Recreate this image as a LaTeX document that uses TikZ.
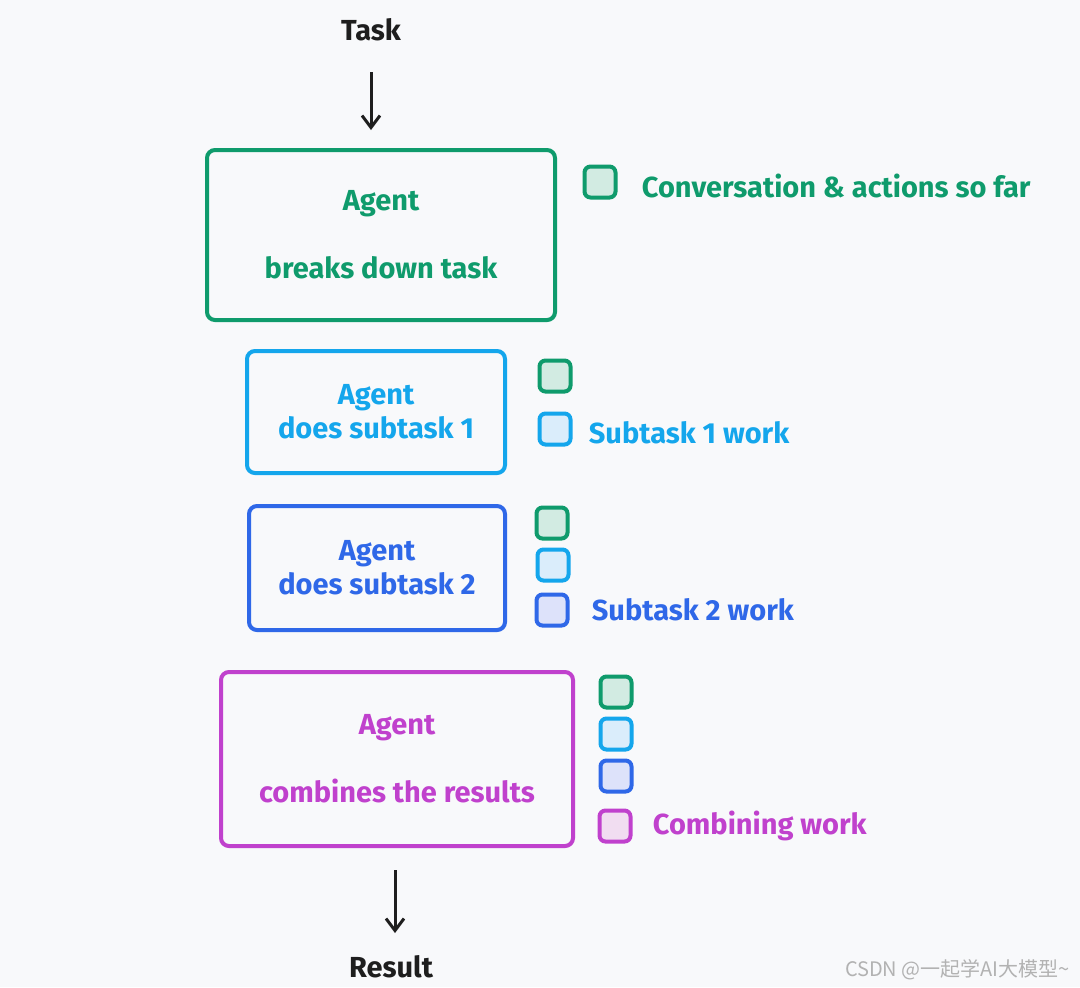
\documentclass[tikz,border=0pt]{standalone}
\usepackage{fontspec}
\setmainfont{Fira Sans}
\newfontfamily\cjk{Noto Sans CJK SC}
\usepackage{xcolor}
\usetikzlibrary{positioning,arrows.meta}

\definecolor{bgcol}{HTML}{F8F9FB}
\definecolor{inkcol}{HTML}{1E1E1E}
\definecolor{tealc}{HTML}{0F9B6C}
\definecolor{tealf}{HTML}{D2EBE2}
\definecolor{skyc}{HTML}{14A6EC}
\definecolor{skyf}{HTML}{DAEDFB}
\definecolor{bluec}{HTML}{2F68E8}
\definecolor{bluef}{HTML}{DDE2FA}
\definecolor{grapec}{HTML}{C041CD}
\definecolor{grapef}{HTML}{F1DDF1}

\begin{document}
\begin{tikzpicture}[x=0.5pt, y=-0.5pt,
    agentbox/.style={draw=#1, text=#1, line width=2pt, rounded corners=4pt,
        align=center, font=\bfseries\fontsize{14.5}{17}\selectfont},
    memsq/.style={draw=#1c, fill=#1f, line width=2pt, rounded corners=3pt,
        minimum size=15.5pt, inner sep=0pt},
    memlabel/.style={text=#1, inner sep=0pt, font=\bfseries\fontsize{14.5}{17}\selectfont},
    flow/.style={-{Straight Barb[length=6pt,width=9pt,line width=1.5pt]},
        line width=1.5pt, draw=inkcol}]
    \fill[bgcol] (0,0) rectangle (1080,987);
    \useasboundingbox (0,0) rectangle (1080,987);

    % task in, result out
    \node[text=inkcol, font=\bfseries\fontsize{14.5}{17}\selectfont] (task) at (371,30) {Task};
    \node[text=inkcol, font=\bfseries\fontsize{14.5}{17}\selectfont] (result) at (391,967) {Result};

    % the four agent steps
    \node[agentbox=tealc, minimum width=174pt, minimum height=85pt] (plan) at (381,235)
        {Agent\\[17pt]breaks down task};
    \node[agentbox=skyc, minimum width=129pt, minimum height=61pt] (sub1) at (376,412)
        {Agent\\does subtask 1};
    \node[agentbox=bluec, minimum width=128pt, minimum height=62pt] (sub2) at (377,568)
        {Agent\\does subtask 2};
    \node[agentbox=grapec, minimum width=176pt, minimum height=87pt] (combine) at (397,759)
        {Agent\\[17pt]combines the results};

    % context blocks next to each step
    \node[memsq=teal] (ctxa) at (600,182) {};
    \node[memlabel=tealc, right=12pt of ctxa, yshift=-2pt] (ctxalbl) {Conversation \& actions so far};

    \node[memsq=teal] (ctxb1) at (555,376) {};
    \node[memsq=sky] (ctxb2) at (555,429) {};
    \node[memlabel=skyc, right=8pt of ctxb2, yshift=-2pt] (ctxblbl) {Subtask 1 work};

    \node[memsq=teal] (ctxc1) at (552,523) {};
    \node[memsq=sky] (ctxc2) at (553,565) {};
    \node[memsq=blue] (ctxc3) at (552,610) {};
    \node[memlabel=bluec, right=11pt of ctxc3] (ctxclbl) {Subtask 2 work};

    \node[memsq=teal] (ctxd1) at (616,692) {};
    \node[memsq=sky] (ctxd2) at (616,734) {};
    \node[memsq=blue] (ctxd3) at (616,776) {};
    \node[memsq=grape] (ctxd4) at (615,826) {};
    \node[memlabel=grapec, right=10pt of ctxd4] (ctxdlbl) {Combining work};

    \draw[flow, shorten <=12pt, shorten >=9pt] (task.south) -- (task.south |- plan.north);
    \draw[flow, shorten <=11pt, shorten >=11pt] (combine.south -| 395,0) -- (395,955);

    \node[text=black!30, font=\cjk\fontsize{10}{12}\selectfont, anchor=east] (mark) at (1077,970)
        {CSDN @一起学AI大模型\textasciitilde};
\end{tikzpicture}
\end{document}
